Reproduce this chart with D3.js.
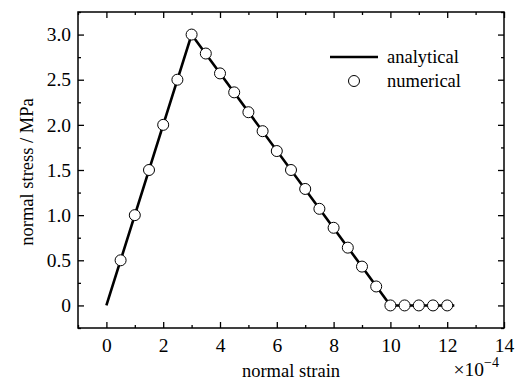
<!DOCTYPE html>
<html>
<head>
<meta charset="utf-8">
<script src="https://cdn.jsdelivr.net/npm/d3@7"></script>
<style>
  html, body { margin: 0; padding: 0; background: #fff; }
  svg { display: block; }
  text { font-family: "Liberation Serif", "Times New Roman", serif; fill: #000; }
</style>
</head>
<body>
<svg id="chart" width="517" height="381"></svg>
<script>
// Analytical stress-strain curve (strain in units of 1e-4, stress in MPa)
const analyticalStrain = [0, 3, 10, 12.25];
const analyticalStress = [0, 3.0, 0, 0];

// Numerical results
const numericalStrain = [0.5, 1, 1.5, 2, 2.5, 3, 3.5, 4, 4.5, 5, 5.5, 6, 6.5, 7, 7.5, 8, 8.5, 9, 9.5, 10, 10.5, 11, 11.5, 12];
const numericalStress = [0.5, 1.0, 1.5, 2.0, 2.5, 3.0, 2.79, 2.57, 2.36, 2.14, 1.93, 1.71, 1.50, 1.29, 1.07, 0.86, 0.64, 0.43, 0.21, 0, 0, 0, 0, 0];

const xTicks = [0, 2, 4, 6, 8, 10, 12, 14];
const xMinorTicks = [-1, 1, 3, 5, 7, 9, 11, 13];
const yTicks = [0, 0.5, 1.0, 1.5, 2.0, 2.5, 3.0];
const yMinorTicks = [-0.25, 0.25, 0.75, 1.25, 1.75, 2.25, 2.75, 3.25];

const FONT = '"Liberation Serif", "Times New Roman", serif';
const svg = d3.select("#chart");
const mLeft = 78, mRight = 504, mTop = 12, mBottom = 328;

const x = d3.scaleLinear().domain([-1, 14]).range([mLeft, mRight]);
const y = d3.scaleLinear().domain([-0.25, 3.25]).range([mBottom, mTop]);

const fmtY = d => d === 0 ? "0" : d3.format(".1f")(d);

// Axes with inward ticks on all four sides: [axis, scale, ticks, tick length, format, transform, label padding]
const axes = [
  [d3.axisBottom, x, xTicks, 6, d3.format("d"), `translate(0,${mBottom})`, 10],
  [d3.axisBottom, x, xMinorTicks, 3, null, `translate(0,${mBottom})`, 0],
  [d3.axisTop, x, xTicks, 6, null, `translate(0,${mTop})`, 0],
  [d3.axisTop, x, xMinorTicks, 3, null, `translate(0,${mTop})`, 0],
  [d3.axisLeft, y, yTicks, 6, fmtY, `translate(${mLeft},0)`, 7],
  [d3.axisLeft, y, yMinorTicks, 3, null, `translate(${mLeft},0)`, 0],
  [d3.axisRight, y, yTicks, 6, null, `translate(${mRight},0)`, 0],
  [d3.axisRight, y, yMinorTicks, 3, null, `translate(${mRight},0)`, 0]
];
axes.forEach(([fn, sc, tv, sz, fmt, tr, pad]) => {
  const axis = fn(sc).tickValues(tv).tickSizeInner(-sz).tickSizeOuter(0)
    .tickPadding(pad).tickFormat(fmt || (() => ""));
  const g = svg.append("g").attr("transform", tr).call(axis)
    .attr("font-family", FONT);
  g.select(".domain").remove();
  g.selectAll(".tick line").attr("stroke", "#000").attr("stroke-width", 1.3);
  g.selectAll(".tick text").style("font-size", "19.5px")
    .style("font-family", FONT).attr("fill", "#000");
});

// Plot frame
svg.append("rect")
  .attr("x", mLeft).attr("y", mTop)
  .attr("width", mRight - mLeft).attr("height", mBottom - mTop)
  .attr("fill", "none").attr("stroke", "#000").attr("stroke-width", 1.5);

// Analytical line
const lineData = analyticalStrain.map((s, i) => [s, analyticalStress[i]]);
svg.append("path")
  .datum(lineData)
  .attr("fill", "none").attr("stroke", "#000").attr("stroke-width", 2.6)
  .attr("d", d3.line().x(d => x(d[0])).y(d => y(d[1])));

// Numerical points
svg.append("g").selectAll("circle")
  .data(numericalStrain.map((s, i) => [s, numericalStress[i]]))
  .join("circle")
  .attr("cx", d => x(d[0])).attr("cy", d => y(d[1]))
  .attr("r", 5.5)
  .attr("fill", "#fff").attr("stroke", "#000").attr("stroke-width", 1);

// Legend
const lg = svg.append("g");
lg.append("line").attr("x1", 330).attr("x2", 378).attr("y1", 57).attr("y2", 57)
  .attr("stroke", "#000").attr("stroke-width", 2.6);
lg.append("text").attr("x", 387).attr("y", 63).style("font-family", FONT)
  .style("font-size", "18.5px").text("analytical");
lg.append("circle").attr("cx", 354).attr("cy", 81).attr("r", 5.5)
  .attr("fill", "#fff").attr("stroke", "#000").attr("stroke-width", 1);
lg.append("text").attr("x", 387).attr("y", 87).style("font-family", FONT)
  .style("font-size", "18.5px").text("numerical");

// Axis titles
svg.append("text").attr("x", 291).attr("y", 377).attr("text-anchor", "middle")
  .style("font-family", FONT).style("font-size", "18.5px").text("normal strain");
svg.append("text")
  .attr("transform", "translate(33,172) rotate(-90)")
  .attr("text-anchor", "middle").style("font-family", FONT).style("font-size", "18.5px")
  .text("normal stress / MPa");

// Exponent multiplier
const mult = svg.append("text").attr("x", 499).attr("y", 376).attr("text-anchor", "end")
  .style("font-family", FONT).style("font-size", "19.5px");
mult.append("tspan").text("\u00d710");
mult.append("tspan").attr("dy", -9).style("font-size", "14px").text("\u22124");
</script>
</body>
</html>
